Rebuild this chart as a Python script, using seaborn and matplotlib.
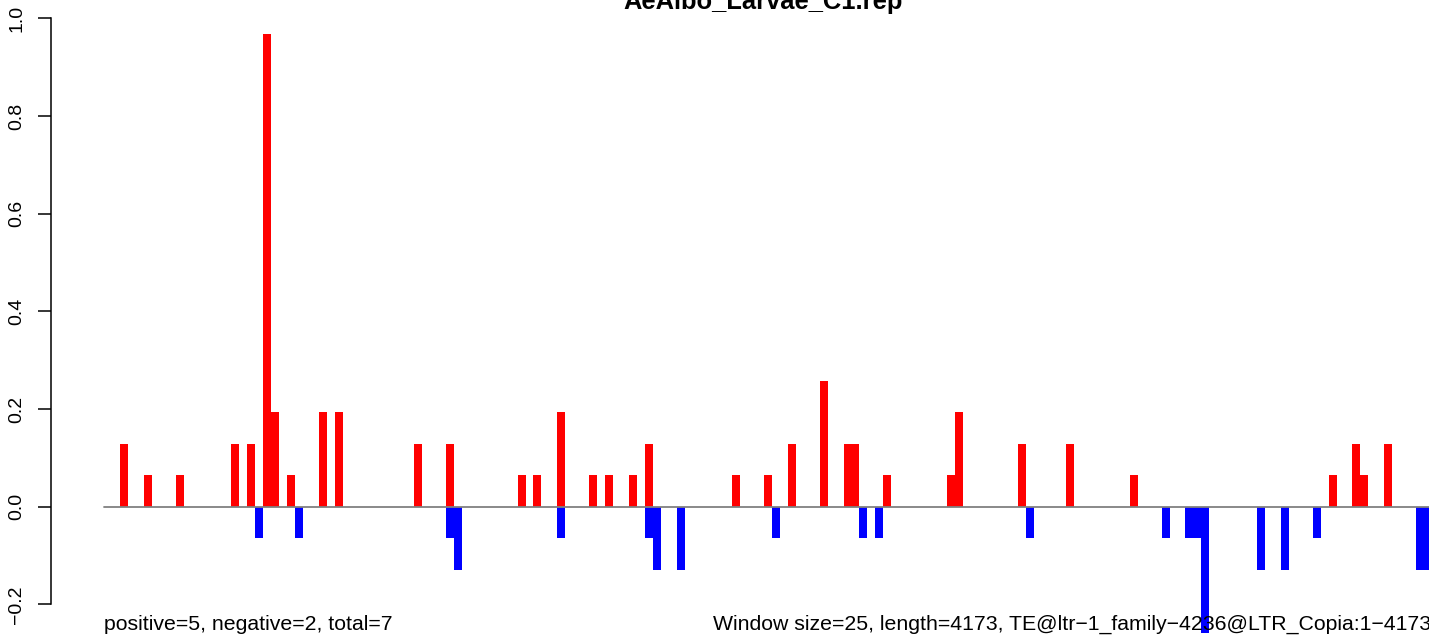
import numpy as np
import pandas as pd
import matplotlib
matplotlib.use("Agg")
import matplotlib.pyplot as plt
import seaborn as sns

# ===============================
# DATA (window index, 25 bp windows)
# ===============================
window_size = 25
seq_len = 4173
title = "AeAlbo_Larvae_C1.rep"

pos_windows = [3, 6, 10, 17, 19, 21, 22, 24, 28, 30, 40, 44, 53, 55, 58, 62, 64,
               67, 69, 80, 84, 87, 91, 94, 95, 99, 107, 108, 116, 122, 130, 155,
               158, 159, 162]
pos_values = [0.129, 0.0645, 0.0645, 0.129, 0.129, 0.968, 0.194, 0.0645, 0.194,
              0.194, 0.129, 0.129, 0.0645, 0.0645, 0.194, 0.0645, 0.0645, 0.0645,
              0.129, 0.0645, 0.0645, 0.129, 0.258, 0.129, 0.129, 0.0645, 0.0645,
              0.194, 0.129, 0.129, 0.0645, 0.0645, 0.129, 0.0645, 0.129]

neg_windows = [20, 25, 44, 45, 58, 69, 70, 73, 85, 96, 98, 117, 134, 137, 138,
               139, 146, 149, 153, 166, 167]
neg_values = [-0.0645, -0.0645, -0.0645, -0.129, -0.0645, -0.0645, -0.129, -0.129,
              -0.0645, -0.0645, -0.0645, -0.0645, -0.0645, -0.0645, -0.0645, -0.258,
              -0.129, -0.129, -0.0645, -0.129, -0.129]

yticks = [-0.2, 0.0, 0.2, 0.4, 0.6, 0.8, 1.0]
left_note = "positive=5, negative=2, total=7"
right_note = "Window size=25, length=4173, TE@ltr\u22121_family\u22124236@LTR_Copia:1\u22124173"

# ===============================
# BUILD TABLE
# ===============================
df = pd.concat([
    pd.DataFrame({"window": pos_windows, "value": pos_values, "sign": "pos"}),
    pd.DataFrame({"window": neg_windows, "value": neg_values, "sign": "neg"}),
], ignore_index=True)
df["center"] = (df["window"] - 1) * window_size + window_size / 2

# ===============================
# PLOT
# ===============================
sns.set_style("white")
plt.rcParams["font.family"] = ["Liberation Sans", "DejaVu Sans"]
plt.rcParams["text.color"] = "black"
plt.rcParams["ytick.color"] = "black"
plt.rcParams["ytick.labelcolor"] = "black"

W, H = 1429, 637
fig = plt.figure(figsize=(W / 100, H / 100), dpi=100)

ext = 0.04 * seq_len
xmin, xmax = -ext, seq_len + ext
ax_left = 51 / W
ax_width = (1484.4 - 51) / W
ax = fig.add_axes([ax_left, 0, ax_width, 1])

sns.barplot(data=df, x="center", y="value", hue="sign", native_scale=True,
            dodge=False, width=1, palette={"pos": "#FF0000", "neg": "#0000FF"},
            saturation=1, linewidth=0, errorbar=None, legend=False, ax=ax)

ax.plot([0, seq_len], [0, 0], color="#808080", lw=1.3, zorder=5)

ax.set_xlim(xmin, xmax)
ax.set_ylim(-(637 - 506.7) / 488.4, 506.7 / 488.4)
ax.set_xlabel("")
ax.set_ylabel("")
ax.set_xticks([])
ax.set_yticks(yticks)
ax.set_yticklabels([f"{t:.1f}".replace("-", "\u2212") for t in yticks])
for lab in ax.get_yticklabels():
    lab.set_rotation(90)
    lab.set_va("center")
    lab.set_color("black")
ax.tick_params(axis="y", left=True, length=9.5, width=1.1, pad=9,
               labelsize=14, color="black", labelcolor="black")

for s in ["top", "right", "bottom"]:
    ax.spines[s].set_visible(False)
ax.spines["left"].set_bounds(-0.2, 1.0)
ax.spines["left"].set_color("black")
ax.spines["left"].set_linewidth(1.1)
ax.patch.set_alpha(0)

fig.text(763 / W, 1 - 9 / H, title, ha="center", va="baseline",
         fontsize=18.4, fontweight="bold", color="black")
fig.text(103.5 / W, 7 / H, left_note, ha="left", va="baseline", fontsize=15.3,
         color="black")
fig.text(713 / W, 7 / H, right_note, ha="left", va="baseline", fontsize=15.3,
         color="black")

fig.savefig("out.png", dpi=100)
